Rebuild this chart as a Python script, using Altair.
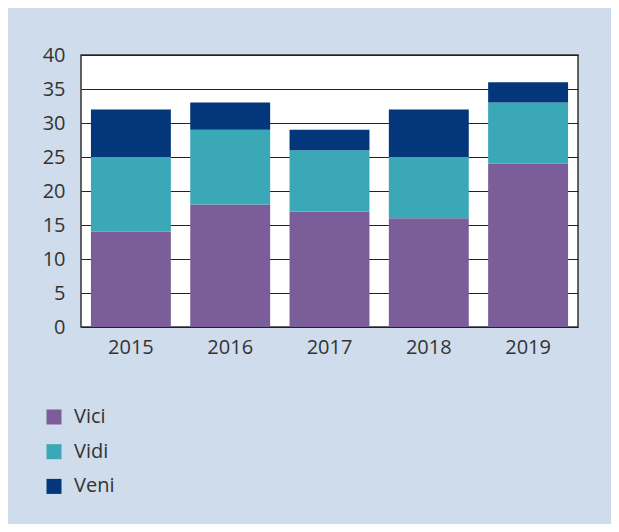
import altair as alt
import pandas as pd

years = ["2015", "2016", "2017", "2018", "2019"]
series = ["Vici", "Vidi", "Veni"]
vici = [14, 18, 17, 16, 24]
vidi = [11, 11, 9, 9, 9]
veni = [7, 4, 3, 7, 3]
colors = ["#7b5e99", "#3aa8b7", "#03367a"]

rows = []
for i, y in enumerate(years):
    for k, (name, vals) in enumerate(zip(series, [vici, vidi, veni])):
        rows.append({"year": y, "series": name, "value": vals[i], "ord": k})
df = pd.DataFrame(rows)

FONT = "Open Sans"

chart = alt.Chart(df).mark_bar().encode(
    x=alt.X("year:N", title=None,
            scale=alt.Scale(paddingInner=0.195, paddingOuter=0.1),
            axis=alt.Axis(labelAngle=0, ticks=False, domain=False, labelPadding=10)),
    y=alt.Y("value:Q", title=None, stack="zero",
            scale=alt.Scale(domain=[0, 40], nice=False),
            axis=alt.Axis(values=list(range(0, 41, 5)), ticks=False, domain=False,
                          labelPadding=16, grid=True)),
    color=alt.Color("series:N", scale=alt.Scale(domain=series, range=colors),
                    legend=alt.Legend(title=None, orient="none", legendX=-37, legendY=352,
                                      direction="vertical", symbolType="square",
                                      symbolSize=225, symbolStrokeWidth=0, padding=0,
                                      labelOffset=10, rowPadding=14.7)),
    order=alt.Order("ord:Q", sort="ascending"),
).properties(
    width=497, height=272,
    background="#cfdcec",
    autosize=alt.AutoSizeParams(type="none"),
    padding={"left": 73, "top": 47, "right": 33, "bottom": 197},
).configure_view(
    fill="white", stroke="#333333", strokeWidth=1.5
).configure_axis(
    labelFont=FONT, labelFontSize=20, labelColor="#333333",
    gridColor="#222222", gridWidth=1.2
).configure_legend(
    labelFont=FONT, labelFontSize=20, labelColor="#333333"
)

chart.save("out.html", embed_options={"renderer": "svg", "actions": False})
